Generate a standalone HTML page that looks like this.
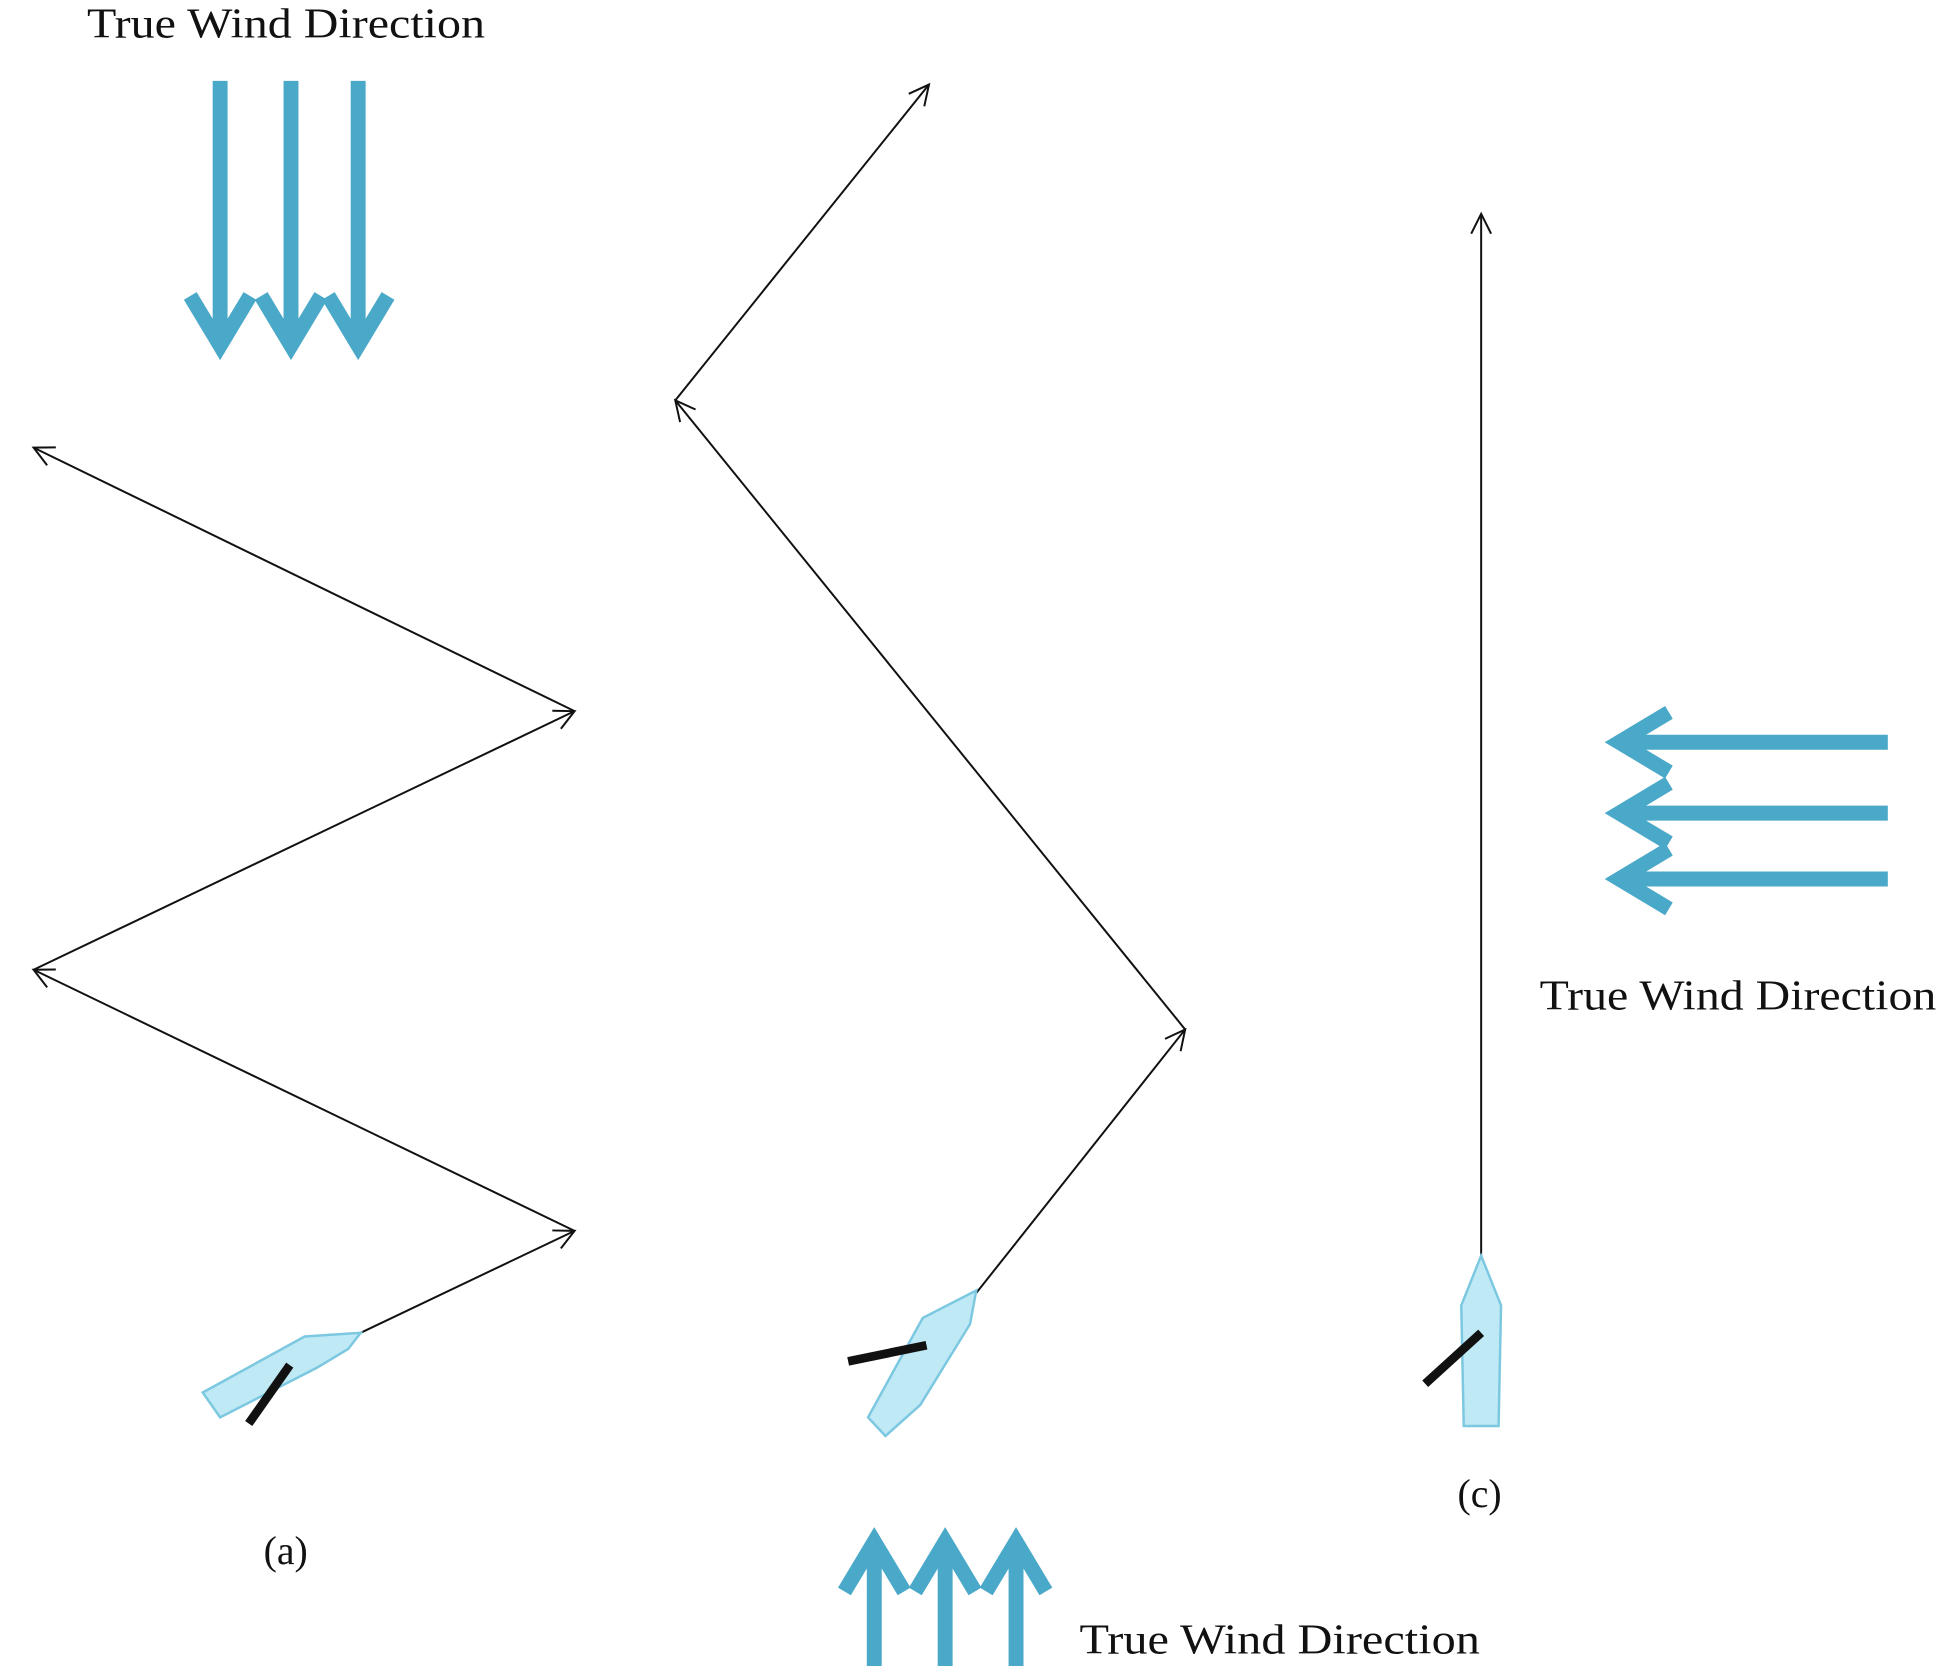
<!DOCTYPE html>
<html><head><meta charset="utf-8"><style>
html,body{margin:0;padding:0;background:#fff;width:1950px;height:1666px;overflow:hidden}
svg{display:block}
text{font-family:"Liberation Serif",serif;fill:#111}
</style></head><body>
<svg width="1950" height="1666" viewBox="0 0 1568 1340" preserveAspectRatio="none">
<defs>
<marker id="ah" viewBox="0 0 20 20" refX="18" refY="10" markerWidth="20" markerHeight="20" markerUnits="userSpaceOnUse" orient="auto">
<path d="M2,2 L18,10 L2,18" fill="none" stroke="#111" stroke-width="1.6"/>
</marker>
</defs>
<g stroke="#4aa8c8" stroke-width="12" fill="none" stroke-linecap="butt">
<line x1="177" y1="65" x2="177" y2="278"/><path d="M153,238 L177,278 L201,238"/>
<line x1="234" y1="65" x2="234" y2="278"/><path d="M210,238 L234,278 L258,238"/>
<line x1="288" y1="65" x2="288" y2="278"/><path d="M264,238 L288,278 L312,238"/>
</g>
<text x="70" y="30" font-size="34" textLength="320" lengthAdjust="spacingAndGlyphs">True Wind Direction</text>
<g stroke="#111" stroke-width="1.6" fill="none">
<line x1="290" y1="1072" x2="462" y2="990" marker-end="url(#ah)"/>
<line x1="462" y1="990" x2="27" y2="780" marker-end="url(#ah)"/>
<line x1="27" y1="780" x2="462" y2="572" marker-end="url(#ah)"/>
<line x1="462" y1="572" x2="27" y2="360" marker-end="url(#ah)"/>
</g>
<g>
<polygon points="163,1120 245,1075 290,1072 280,1085 255,1100 177,1140" fill="#bfe9f5" stroke="#7cc8e0" stroke-width="2"/>
<line x1="233" y1="1098" x2="200" y2="1145" stroke="#111" stroke-width="7"/>
</g>
<text x="212" y="1258" font-size="32">(a)</text>
<g stroke="#111" stroke-width="1.6" fill="none">
<line x1="785" y1="1040" x2="953" y2="828" marker-end="url(#ah)"/>
<line x1="953" y1="828" x2="543" y2="322" marker-end="url(#ah)"/>
<line x1="543" y1="322" x2="747" y2="68" marker-end="url(#ah)"/>
</g>
<g>
<polygon points="698,1140 742,1060 785,1038 780,1065 740,1130 712,1155" fill="#bfe9f5" stroke="#7cc8e0" stroke-width="2"/>
<line x1="682" y1="1095" x2="745" y2="1082" stroke="#111" stroke-width="7"/>
</g>
<g stroke="#4aa8c8" stroke-width="12" fill="none">
<line x1="703" y1="1341" x2="703" y2="1240"/><path d="M679,1280 L703,1240 L727,1280"/>
<line x1="760" y1="1341" x2="760" y2="1240"/><path d="M736,1280 L760,1240 L784,1280"/>
<line x1="817" y1="1341" x2="817" y2="1240"/><path d="M793,1280 L817,1240 L841,1280"/>
</g>
<text x="868" y="1330" font-size="34" textLength="322" lengthAdjust="spacingAndGlyphs">True Wind Direction</text>
<g stroke="#111" stroke-width="1.6" fill="none">
<line x1="1191" y1="1010" x2="1191" y2="172" marker-end="url(#ah)"/>
</g>
<g>
<polygon points="1175,1050 1191,1010 1207,1050 1205,1147 1177,1147" fill="#bfe9f5" stroke="#7cc8e0" stroke-width="2"/>
<line x1="1191" y1="1072" x2="1146" y2="1113" stroke="#111" stroke-width="7"/>
</g>
<text x="1172" y="1212" font-size="32">(c)</text>
<g stroke="#4aa8c8" stroke-width="12" fill="none">
<line x1="1518" y1="597" x2="1302" y2="597"/><path d="M1342,573 L1302,597 L1342,621"/>
<line x1="1518" y1="654" x2="1302" y2="654"/><path d="M1342,630 L1302,654 L1342,678"/>
<line x1="1518" y1="707" x2="1302" y2="707"/><path d="M1342,683 L1302,707 L1342,731"/>
</g>
<text x="1238" y="812" font-size="34" textLength="319" lengthAdjust="spacingAndGlyphs">True Wind Direction</text>
</svg>
</body></html>
